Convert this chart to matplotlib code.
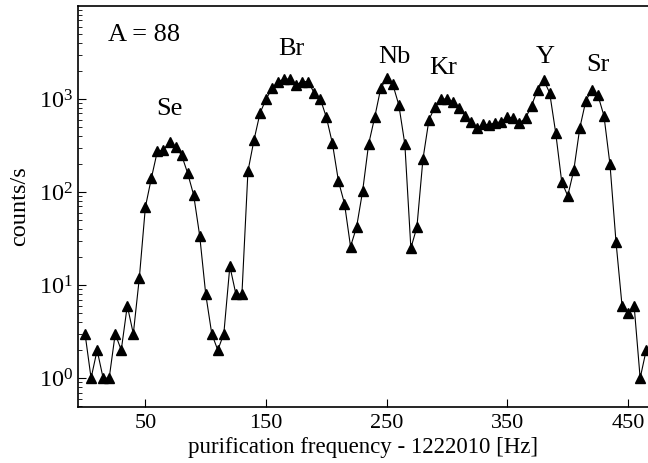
import matplotlib
matplotlib.use("Agg")
import matplotlib.pyplot as plt
from matplotlib.ticker import LogLocator, NullFormatter, FixedLocator

freq = [0, 5, 10, 15, 20, 25, 30, 35, 40, 45,
        50, 55, 60, 65, 70, 75, 80, 85, 90, 95,
        100, 105, 110, 115, 120, 125, 130, 135, 140, 145,
        150, 155, 160, 165, 170, 175, 180, 185, 190, 195,
        200, 205, 210, 215, 220, 225, 230, 235, 240, 245,
        250, 255, 260, 265, 270, 275, 280, 285, 290, 295,
        300, 305, 310, 315, 320, 325, 330, 335, 340, 345,
        350, 355, 360, 365, 370, 375, 380, 385, 390, 395,
        400, 405, 410, 415, 420, 425, 430, 435, 440, 445,
        450, 455, 460, 465]
counts = [3, 1, 2, 1, 1, 3, 2, 6, 3, 12,
          69, 142, 278, 280, 347, 306, 250, 160, 93, 34,
          8, 3, 2, 3, 16, 8, 8, 168, 363, 706,
          1000, 1300, 1540, 1640, 1640, 1420, 1540, 1540, 1150, 1000,
          635, 333, 131, 75, 26, 42, 102, 328, 635, 1300,
          1700, 1440, 865, 328, 25, 42, 226, 600, 825, 1000,
          1000, 935, 810, 660, 570, 485, 535, 530, 556, 570,
          645, 620, 556, 620, 850, 1260, 1600, 1170, 435, 129,
          91, 172, 490, 960, 1260, 1100, 660, 198, 29, 6,
          5, 6, 1, 2]

xticks = [50, 150, 250, 350, 450]
labels = ["Se", "Br", "Nb", "Kr", "Y", "Sr"]
label_x = [70, 171, 256, 297, 381, 425]
label_y = [780, 3450, 2850, 2140, 2850, 2320]

plt.rcParams['font.family'] = ['Liberation Serif', 'DejaVu Serif']
plt.rcParams['mathtext.fontset'] = 'custom'
plt.rcParams['mathtext.rm'] = 'Liberation Serif'
plt.rcParams['mathtext.it'] = 'Liberation Serif:italic'

fig = plt.figure(figsize=(6.48, 4.63), dpi=100)
ax = fig.add_axes([0.121, 0.121, 0.879, 0.866])

ax.semilogy(freq, counts, color='black', lw=0.8, marker='^', ms=7.5,
            markerfacecolor='black', markeredgecolor='black')
ax.set_xlim(-5.5, 466.5)
ax.set_ylim(0.49, 1.0e4)

ax.xaxis.set_major_locator(FixedLocator(xticks))
ax.set_xticklabels([str(t) for t in xticks])
ax.yaxis.set_minor_locator(LogLocator(base=10, subs=range(2, 10), numticks=20))
ax.yaxis.set_minor_formatter(NullFormatter())
ax.set_yticks([1, 10, 100, 1000])
ax.set_yticklabels([r'$10^0$', r'$10^1$', r'$10^2$', r'$10^3$'])

ax.tick_params(axis='x', which='major', direction='in', length=6, width=0.8,
               labelsize=16, pad=5)
ax.tick_params(axis='y', which='major', direction='in', length=6, width=0.8,
               labelsize=17.5, pad=4)
ax.tick_params(axis='y', which='minor', direction='in', length=3, width=0.6)
ax.spines['right'].set_visible(False)
for s in ['left', 'bottom', 'top']:
    ax.spines[s].set_linewidth(1.2)

ax.set_xlabel('purification frequency - 1222010 [Hz]', fontsize=16.5, labelpad=3)
ax.set_ylabel('counts/s', fontsize=17.5, labelpad=6)

ax.text(49, 4900, 'A = 88', fontsize=19, ha='center', va='center')
for lab, lx, ly in zip(labels, label_x, label_y):
    ax.text(lx, ly, lab, fontsize=19, ha='center', va='center')

fig.savefig('out.png', dpi=100)
